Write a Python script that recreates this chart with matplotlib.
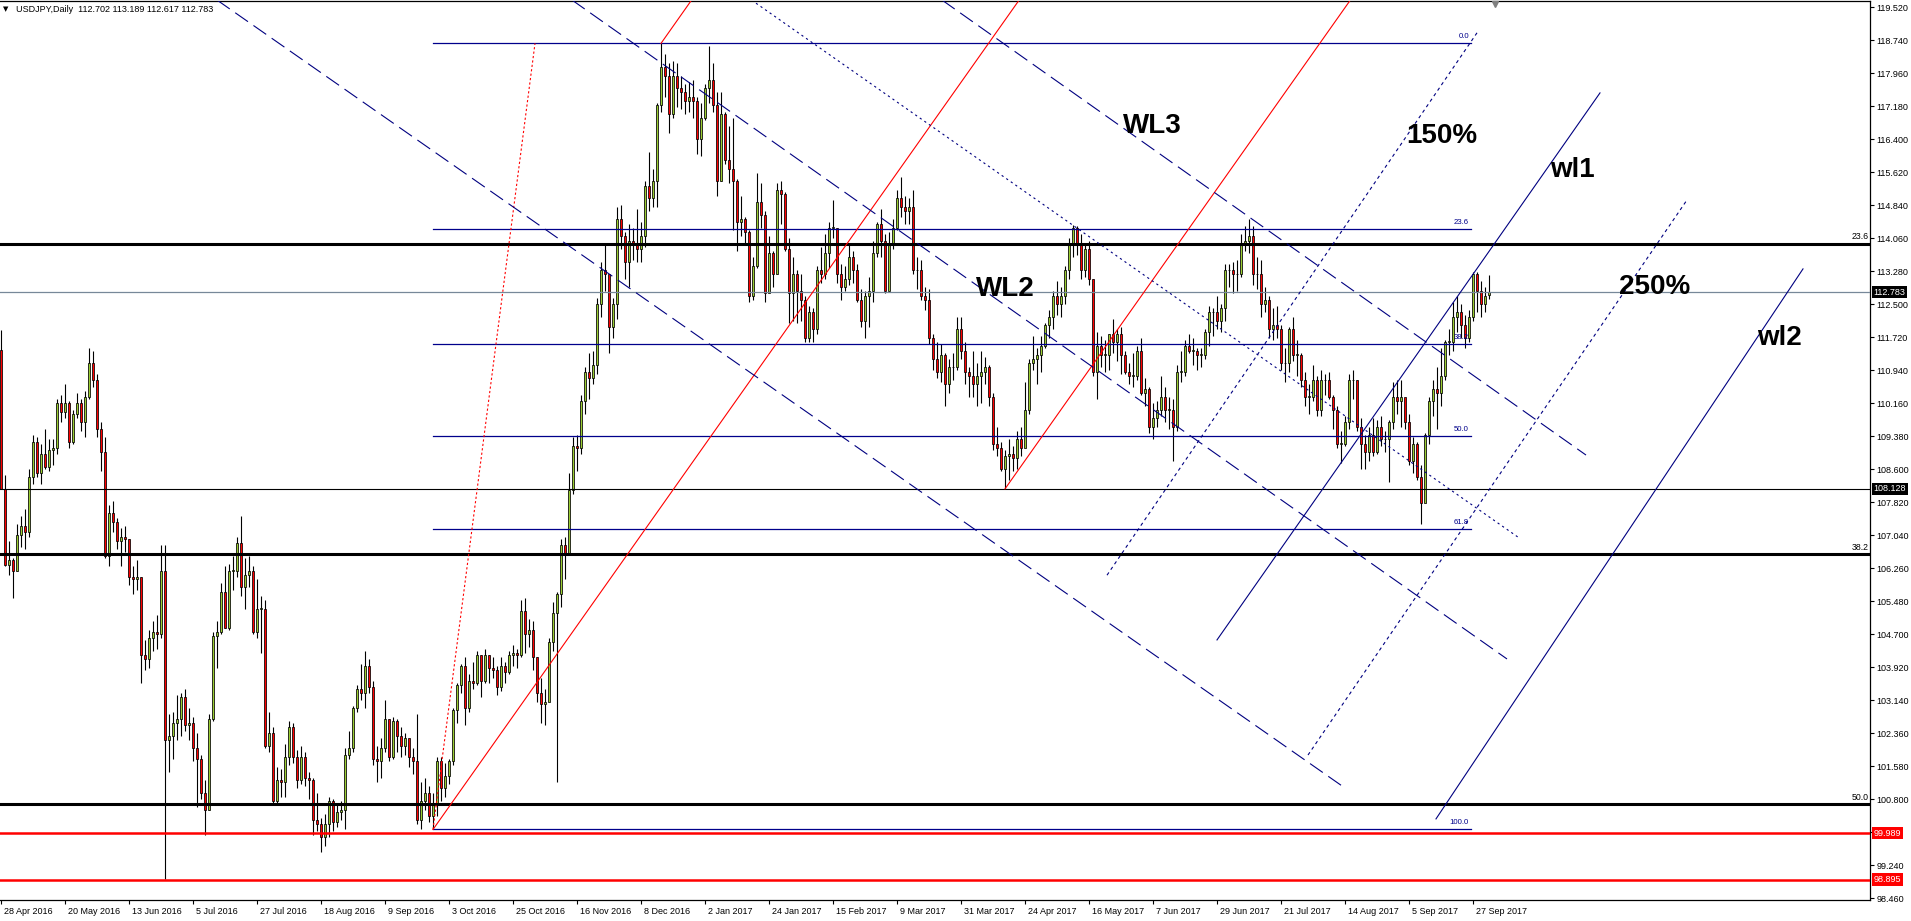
import matplotlib
matplotlib.use('Agg')
import matplotlib.pyplot as plt

plt.rcParams['font.family'] = ['Liberation Sans', 'DejaVu Sans']

# ---------------- data (daily USDJPY, 28 Apr 2016 .. 3 Oct 2017) ----------------
first_open = 111.42
last_open = 112.702

close = [
    108.12, 106.33,
    106.45, 106.20, 107.05, 107.25, 107.10, 108.40, 109.25, 108.50, 108.95, 108.65, 109.05, 109.10, 110.15, 109.95, 110.15, 109.25, 109.90, 110.15, 109.70, 110.30, 111.10, 110.70,
    109.55, 109.00, 106.55, 107.55, 107.35, 106.90, 107.00, 106.95, 106.05, 106.00, 106.05, 104.20, 104.10, 104.60, 104.75, 104.70, 106.20, 102.20, 102.30, 102.60, 102.70, 103.20,
    102.55, 102.60, 102.00, 101.75, 100.95, 100.55, 102.70, 104.65, 104.75, 105.70, 104.85, 106.20, 106.20, 106.85, 105.80, 106.10, 106.20, 104.75, 105.30, 105.30, 102.05,
    102.35, 100.75, 101.25, 101.20, 101.80, 102.50, 101.80, 101.25, 101.80, 101.30, 101.25, 100.30, 100.20, 99.90, 100.20, 100.75, 100.25, 100.50, 100.55, 101.85, 102.00, 102.95, 103.40,
    103.30, 103.95, 103.45, 101.75, 101.70, 102.00, 102.70, 101.80, 102.65, 102.30, 102.05, 102.25, 101.80, 101.70, 100.30, 100.75, 100.95, 100.40, 100.65, 101.70, 101.05, 101.35,
    101.70, 102.90, 103.50, 103.95, 102.95, 103.60, 103.55, 104.20, 103.60, 104.20, 103.90, 103.85, 103.45, 103.95, 103.80, 104.20, 104.25, 104.20, 105.25, 104.70, 104.80,
    104.15, 103.30, 103.05, 103.10, 104.50, 105.20, 105.65, 106.80, 106.60, 108.10, 109.15, 109.10, 110.20, 110.90, 110.75, 111.05, 112.50, 113.30, 113.20, 111.95, 112.50, 114.50,
    114.10, 113.50, 114.00, 113.90, 113.80, 114.10, 115.30, 115.00, 115.40, 117.20, 118.10, 117.90, 117.00, 117.90, 117.60, 117.50, 117.30, 117.40, 117.30, 116.40, 116.90,
    117.60, 117.80, 117.20, 115.40, 117.00, 115.90, 115.70, 115.40, 114.45, 114.50, 114.20, 112.70, 113.40, 114.90, 114.60, 112.75, 113.70, 113.20, 115.20, 115.10, 113.80, 112.75,
    113.20, 112.80, 112.60, 111.70, 112.30, 111.90, 113.30, 113.20, 113.70, 114.30, 114.30, 113.20, 112.90, 113.10, 113.60, 113.30, 112.60, 112.10, 112.70, 112.80,
    113.70, 114.40, 114.00, 112.80, 113.90, 114.30, 115.00, 114.80, 114.70, 114.80, 113.30, 113.30, 112.70, 112.60, 111.70, 111.20, 110.90, 111.30, 110.60, 111.00, 111.00, 111.90, 111.40,
    110.90, 110.80, 110.60, 110.80, 110.90, 111.00, 110.30, 109.20, 109.10, 108.60, 108.90, 108.95, 108.85, 109.30, 109.10, 110.00, 111.10, 111.20, 111.30, 111.50,
    112.00, 112.20, 112.70, 112.50, 112.70, 113.30, 113.90, 114.30, 113.90, 113.30, 113.80, 113.10, 110.90, 111.50, 111.30, 111.30, 111.80, 111.60, 111.80, 111.30, 110.90, 110.80, 110.80,
    111.40, 110.40, 110.50, 109.60, 109.80, 110.00, 110.30, 110.00, 110.00, 109.60, 110.90, 110.90, 111.50, 111.40, 111.40, 111.30, 111.30, 111.85, 112.30, 112.30, 112.10, 112.40,
    113.30, 113.30, 113.20, 113.20, 113.90, 114.00, 114.10, 113.20, 113.20, 112.50, 112.60, 111.90, 112.00, 111.90, 111.10, 111.10, 111.90, 111.30, 111.30, 110.70, 110.30,
    110.30, 110.70, 110.00, 110.70, 110.70, 110.30, 110.00, 109.20, 109.20, 109.70, 110.70, 110.70, 109.60, 109.20, 109.00, 109.40, 109.00, 109.60, 109.30, 109.30, 109.70, 110.30, 110.20,
    110.30, 109.70, 108.80, 109.20, 108.40, 107.80, 109.40, 110.20, 110.50, 110.40, 110.80, 111.60, 111.60, 112.20, 112.30, 112.00, 111.70, 112.20, 113.20, 112.80, 112.50,
    112.70, 112.783,
]

high = [
    111.88, 108.45,
    106.90, 106.50, 107.30, 107.50, 107.65, 108.60, 109.40, 109.35, 109.20, 109.55, 109.30, 109.30, 110.25, 110.35, 110.60, 110.20, 110.00, 110.40, 110.25, 110.45, 111.45, 111.40,
    110.85, 109.70, 109.35, 107.75, 107.85, 107.45, 107.20, 107.25, 106.95, 106.30, 106.45, 106.05, 104.55, 104.80, 105.00, 105.15, 106.80, 106.80, 102.80, 102.85, 103.25, 103.30,
    103.40, 102.95, 102.75, 102.35, 101.85, 101.25, 102.80, 104.75, 105.00, 105.90, 106.30, 106.35, 106.55, 107.00, 107.50, 106.50, 106.55, 106.30, 106.00, 105.60, 105.50,
    102.85, 102.50, 101.55, 101.50, 102.10, 102.65, 102.60, 101.95, 102.05, 101.90, 101.45, 101.30, 100.95, 100.35, 100.45, 100.85, 100.80, 100.65, 100.75, 102.00, 102.40, 103.00, 103.50,
    104.00, 104.30, 104.10, 103.60, 102.05, 102.25, 103.15, 102.70, 102.75, 102.70, 102.50, 102.35, 102.15, 102.00, 102.80, 101.20, 101.30, 101.10, 100.95, 101.80, 101.80, 101.65,
    101.75, 102.95, 103.55, 104.00, 104.15, 103.75, 104.05, 104.30, 104.20, 104.35, 104.20, 104.15, 103.95, 104.15, 104.05, 104.30, 104.45, 104.35, 105.50, 105.55, 105.05,
    105.00, 104.15, 103.65, 103.40, 104.60, 105.45, 105.70, 106.95, 107.00, 108.50, 109.35, 109.40, 110.35, 111.00, 111.35, 111.40, 112.65, 113.50, 113.90, 113.00, 112.65, 114.80,
    114.85, 114.20, 114.40, 114.30, 114.75, 114.45, 115.40, 116.10, 115.70, 117.25, 118.66, 118.40, 118.20, 118.25, 118.20, 117.90, 117.70, 117.75, 117.80, 117.40, 117.25,
    117.70, 118.60, 118.20, 117.50, 117.50, 117.05, 116.70, 116.90, 115.45, 115.05, 114.55, 114.25, 113.60, 115.60, 115.35, 114.70, 114.10, 113.75, 115.35, 115.40, 115.15, 114.05,
    113.60, 113.30, 113.20, 112.70, 112.45, 112.40, 113.40, 113.85, 114.15, 114.45, 114.95, 114.30, 113.45, 113.40, 113.95, 113.75, 113.45, 112.85, 112.80, 113.15,
    114.00, 114.45, 114.75, 114.15, 114.20, 114.50, 115.20, 115.50, 115.05, 115.00, 115.20, 113.60, 113.55, 112.90, 112.85, 111.80, 111.60, 111.55, 111.35, 111.20, 111.35, 112.20, 112.20,
    111.60, 111.00, 111.40, 111.10, 111.40, 111.25, 111.05, 110.40, 109.60, 109.25, 109.05, 109.30, 109.15, 109.50, 109.60, 110.65, 111.20, 111.75, 111.45, 111.75,
    112.05, 112.35, 112.80, 113.05, 112.90, 113.40, 114.05, 114.37, 114.35, 114.15, 113.90, 114.00, 113.10, 111.85, 111.75, 111.65, 111.80, 112.15, 111.90, 111.95, 111.40, 111.10, 111.35,
    111.50, 111.70, 110.75, 110.55, 110.15, 110.20, 110.80, 110.55, 110.30, 110.25, 111.05, 111.40, 111.65, 111.80, 111.70, 111.45, 111.45, 111.90, 112.45, 112.40, 112.70, 112.50,
    113.45, 113.45, 113.50, 113.55, 114.15, 114.35, 114.50, 114.35, 113.60, 113.55, 112.90, 112.70, 112.40, 112.45, 112.00, 111.45, 111.95, 112.20, 111.65, 111.35, 110.90,
    110.60, 111.05, 110.80, 110.95, 110.85, 110.90, 110.35, 110.10, 109.50, 109.85, 110.85, 110.95, 110.70, 109.80, 109.40, 109.60, 109.80, 109.75, 109.85, 109.50, 109.75, 110.65, 110.70,
    110.70, 110.00, 109.90, 109.35, 109.25, 108.70, 109.45, 110.30, 110.70, 111.00, 111.45, 111.65, 111.90, 112.55, 112.70, 112.50, 112.25, 112.35, 113.25, 113.25, 113.05,
    112.90, 113.189,
]

low = [
    108.12, 106.30,
    106.10, 105.55, 106.20, 106.75, 106.70, 107.00, 108.25, 108.40, 108.25, 108.60, 108.55, 108.70, 108.95, 109.70, 109.80, 109.10, 109.20, 109.80, 109.50, 109.35, 110.25, 110.55,
    109.35, 108.55, 106.50, 106.30, 107.10, 106.70, 106.30, 106.65, 105.85, 105.65, 105.75, 103.55, 103.85, 103.90, 104.30, 104.35, 104.60, 98.90, 101.45, 101.75, 102.20, 102.30,
    102.40, 102.20, 101.70, 100.60, 100.80, 99.95, 100.55, 102.65, 103.90, 104.70, 104.85, 104.80, 105.75, 106.05, 105.60, 105.30, 105.80, 104.70, 104.60, 104.25, 102.00,
    101.90, 100.70, 100.65, 100.85, 100.85, 101.60, 101.65, 101.05, 101.15, 101.10, 100.80, 99.95, 100.05, 99.55, 99.70, 99.90, 100.05, 100.15, 100.30, 100.10, 101.75, 101.90, 102.85,
    103.15, 102.95, 103.30, 101.60, 101.20, 101.30, 101.90, 101.70, 101.75, 101.90, 101.80, 101.85, 101.55, 101.40, 100.20, 100.10, 100.55, 100.25, 100.08, 100.40, 100.75, 100.85,
    101.15, 101.60, 102.60, 103.30, 102.55, 102.85, 103.40, 103.50, 103.20, 103.55, 103.55, 103.65, 103.25, 103.35, 103.55, 103.75, 103.95, 103.90, 104.15, 104.25, 104.40,
    103.85, 103.10, 102.60, 102.55, 103.50, 104.30, 101.20, 105.35, 106.00, 106.60, 108.00, 108.55, 108.95, 109.90, 110.25, 110.60, 110.85, 112.20, 112.80, 111.35, 111.70, 112.15,
    113.80, 113.10, 112.90, 113.55, 113.50, 113.50, 113.85, 114.70, 114.80, 114.80, 117.05, 117.40, 116.55, 116.90, 117.15, 117.10, 117.00, 117.05, 116.90, 116.05, 116.00,
    116.85, 117.25, 117.05, 115.05, 115.40, 115.80, 115.35, 114.25, 113.75, 114.10, 113.95, 112.55, 112.60, 113.35, 114.30, 112.55, 112.80, 112.90, 113.20, 114.40, 113.75, 112.05,
    112.10, 112.05, 112.10, 111.60, 111.60, 111.60, 111.80, 113.00, 113.10, 113.35, 114.05, 113.00, 112.60, 112.80, 112.95, 113.00, 112.55, 111.95, 111.70, 111.95,
    112.55, 113.60, 113.60, 112.75, 112.80, 113.80, 114.25, 114.55, 114.40, 114.40, 113.20, 112.85, 112.60, 112.35, 111.55, 110.95, 110.75, 110.65, 110.10, 110.40, 110.70, 110.95, 111.20,
    110.60, 110.30, 110.30, 110.10, 110.15, 110.60, 110.10, 109.05, 108.90, 108.55, 108.13, 108.35, 108.55, 108.60, 108.90, 109.60, 109.90, 110.95, 110.60, 110.90,
    111.45, 111.70, 111.90, 112.25, 112.20, 112.50, 113.10, 113.60, 113.65, 113.10, 113.15, 112.95, 110.80, 110.25, 111.00, 110.90, 110.95, 111.35, 111.15, 110.85, 110.85, 110.60, 110.55,
    110.70, 110.35, 110.10, 109.45, 109.30, 109.60, 109.85, 109.70, 109.55, 108.80, 109.50, 110.65, 110.80, 111.35, 111.05, 110.95, 111.00, 111.20, 111.50, 111.75, 111.90, 111.85,
    112.10, 112.90, 112.75, 112.80, 113.15, 113.75, 113.70, 112.95, 112.85, 112.20, 112.30, 111.70, 111.65, 111.70, 110.95, 110.65, 110.90, 111.15, 110.80, 110.55, 110.10,
    109.90, 110.20, 109.85, 109.85, 110.35, 110.25, 109.55, 109.10, 108.75, 109.15, 109.55, 110.25, 109.50, 108.60, 108.60, 108.80, 108.90, 108.95, 109.15, 109.00, 108.30, 109.55, 109.90,
    109.60, 109.55, 108.70, 108.50, 108.35, 107.30, 108.30, 109.20, 109.85, 109.55, 110.10, 110.70, 111.30, 111.40, 111.85, 111.70, 111.45, 111.60, 112.10, 112.30, 112.20,
    112.30, 112.617,
]

date_labels = ['28 Apr 2016', '20 May 2016', '13 Jun 2016', '5 Jul 2016', '27 Jul 2016', '18 Aug 2016',
               '9 Sep 2016', '3 Oct 2016', '25 Oct 2016', '16 Nov 2016', '8 Dec 2016', '2 Jan 2017',
               '24 Jan 2017', '15 Feb 2017', '9 Mar 2017', '31 Mar 2017', '24 Apr 2017', '16 May 2017',
               '7 Jun 2017', '29 Jun 2017', '21 Jul 2017', '14 Aug 2017', '5 Sep 2017', '27 Sep 2017']
date_tick_bars = [0, 16, 32, 48, 64, 80, 96, 112, 128, 144, 160, 176,
                  192, 208, 224, 240, 256, 272, 288, 304, 320, 336, 352, 368]

price_ticks = [119.52, 118.74, 117.96, 117.18, 116.40, 115.62, 114.84, 114.06, 113.28, 112.50,
               111.72, 110.94, 110.16, 109.38, 108.60, 107.82, 107.04, 106.26, 105.48, 104.70,
               103.92, 103.14, 102.36, 101.58, 100.80, 100.02, 99.24, 98.46]
# the 100.020 label sits under the 99.989 price box in the reference
hidden_tick_labels = [100.02]

# blue fibonacci (Sep 2016 low -> Dec 2016 high)
fib_blue_levels = [118.66, 114.27, 111.55, 109.37, 107.18, 100.08]
fib_blue_names = ['0.0', '23.6', '38.2', '50.0', '61.8', '100.0']
fib_blue_span = (108, 367.5)
fib_blue_trend = [(108, 100.08), (133.5, 118.66)]

# long term black fibonacci levels
fib_black_levels = [113.93, 106.59, 100.69]
fib_black_names = ['23.6', '38.2', '50.0']

# horizontal price lines
bid_price = 112.783
support_black = 108.128
red_levels = [99.989, 98.895]

# red parallel channel (rays)
red_rays = [[(108, 100.08), (256, 119.88)],
            [(165, 118.66), (175, 120.00)],
            [(251, 108.13), (340, 120.04)]]

# blue falling lines
blue_dashed = [[(54, 119.685), (336, 101.06)],
               [(142.75, 119.685), (376.5, 104.11)],
               [(235.25, 119.685), (396.25, 108.93)]]
blue_fine_dotted = [[(188.75, 119.61), (379.25, 106.99)]]

# blue rising lines
blue_solid = [[(304, 104.56), (399.75, 117.49)],
              [(358.75, 100.33), (450.5, 113.33)]]
blue_dotted = [[(276.5, 106.09), (369, 118.91)],
               [(326.75, 101.84), (421.5, 114.96)]]

labels_text = ['WL3', '150%', 'wl1', 'WL2', '250%', 'wl2']
labels_pos = [(287.75, 116.71), (360.25, 116.47), (392.75, 115.67),
              (251, 112.855), (413.5, 112.90), (444.5, 111.70)]

# ---------------- figure ----------------
W, H = 1911, 921
fig = plt.figure(figsize=(W / 100, H / 100), dpi=100)
fig.patch.set_facecolor('white')
ax = fig.add_axes([0, 21 / H, 1870 / W, 899 / H])
ax.set_xlim(-0.25, 467.25)
ax.set_ylim(98.413, 119.662)

NAVY = '#000080'
BULL = '#9ACD32'
BEAR = '#FF0000'

opens = [first_open] + close[:-1]
opens[-1] = last_open
n = len(close)
xs = list(range(n))
bottoms = [min(o, c) for o, c in zip(opens, close)]
heights = [max(abs(c - o), 0.015) for o, c in zip(opens, close)]
cols = [BULL if c >= o else BEAR for o, c in zip(opens, close)]

ax.vlines(xs, low, high, colors='black', linewidth=0.8, zorder=2)
ax.bar(xs, heights, bottom=bottoms, width=0.72, color=cols, edgecolor='black',
       linewidth=0.55, zorder=3)

# horizontal lines
for lv in fib_black_levels:
    ax.axhline(lv, color='black', linewidth=2.2, zorder=4)
for lv, nm in zip(fib_black_levels, fib_black_names):
    ax.annotate(nm, xy=(1.0, lv), xycoords=('axes fraction', 'data'), xytext=(-1, 1.5),
                textcoords='offset points', ha='right', va='bottom', fontsize=6.3, color='black')
ax.axhline(support_black, color='black', linewidth=0.8, zorder=4)
for lv in red_levels:
    ax.axhline(lv, color='#FF0000', linewidth=1.8, zorder=4)
ax.axhline(bid_price, color='#778899', linewidth=0.9, zorder=4)

for lv, nm in zip(fib_blue_levels, fib_blue_names):
    ax.plot(fib_blue_span, [lv, lv], color='#00008B', linewidth=0.9, zorder=4)
    ax.text(fib_blue_span[1] - 0.5, lv + 0.08, nm, ha='right', va='bottom', fontsize=5.6,
            color='#00008B', zorder=5)
ax.plot([p[0] for p in fib_blue_trend], [p[1] for p in fib_blue_trend], color='#FF0000',
        linewidth=0.8, dashes=(2, 2), zorder=4)

for seg in red_rays:
    ax.plot([p[0] for p in seg], [p[1] for p in seg], color='#FF0000', linewidth=0.8, zorder=4)
for seg in blue_dashed:
    ax.plot([p[0] for p in seg], [p[1] for p in seg], color=NAVY, linewidth=0.8,
            dashes=(14, 6), zorder=4)
for seg in blue_fine_dotted:
    ax.plot([p[0] for p in seg], [p[1] for p in seg], color=NAVY, linewidth=0.8,
            dashes=(2, 3), zorder=4)
for seg in blue_solid:
    ax.plot([p[0] for p in seg], [p[1] for p in seg], color=NAVY, linewidth=0.8, zorder=4)
for seg in blue_dotted:
    ax.plot([p[0] for p in seg], [p[1] for p in seg], color=NAVY, linewidth=0.8,
            dashes=(3, 3), zorder=4)

for txt, (bx, by) in zip(labels_text, labels_pos):
    ax.text(bx, by, txt, ha='center', va='center', fontsize=20, fontweight='bold',
            color='black', zorder=6)

# chart shift marker
ax.plot([373.5], [119.60], marker='v', markersize=5, color='#808080', clip_on=False, zorder=6)

# axes styling
ax.spines['left'].set_visible(False)
for side in ['top', 'right', 'bottom']:
    ax.spines[side].set_color('black')
    ax.spines[side].set_linewidth(0.9)

ax.yaxis.tick_right()
ax.set_yticks(price_ticks)
ax.set_yticklabels(['' if p in hidden_tick_labels else '%.3f' % p for p in price_ticks])
ax.tick_params(axis='y', direction='out', length=3, width=0.8, labelsize=6.5, pad=1.5,
               colors='black')
ax.set_xticks(date_tick_bars)
ax.set_xticklabels([''] * len(date_tick_bars))
ax.tick_params(axis='x', direction='out', length=3, width=0.8)
for pos, lbl in zip(date_tick_bars, date_labels):
    ax.annotate(lbl, xy=(pos, 0), xycoords=('data', 'axes fraction'), xytext=(2, -8),
                textcoords='offset points', ha='left', va='center', fontsize=6.5,
                annotation_clip=False)

# price boxes on the right scale
for lv, fc in [(bid_price, 'black'), (support_black, 'black'),
               (red_levels[0], '#FF0000'), (red_levels[1], '#FF0000')]:
    ax.annotate('%.3f' % lv, xy=(1.0, lv), xycoords=('axes fraction', 'data'), xytext=(2.5, 0),
                textcoords='offset points', ha='left', va='center', fontsize=6.5, color='white',
                bbox=dict(boxstyle='square,pad=0.18', fc=fc, ec='none'),
                annotation_clip=False, zorder=10)

# header
fig.text(3 / W, 1 - 9 / H, '\u25bc', fontsize=5, va='center', ha='left', family='DejaVu Sans')
fig.text(16 / W, 1 - 9 / H, 'USDJPY,Daily  112.702 113.189 112.617 112.783', fontsize=6.5,
         va='center', ha='left')

fig.savefig('out.png', dpi=100)
